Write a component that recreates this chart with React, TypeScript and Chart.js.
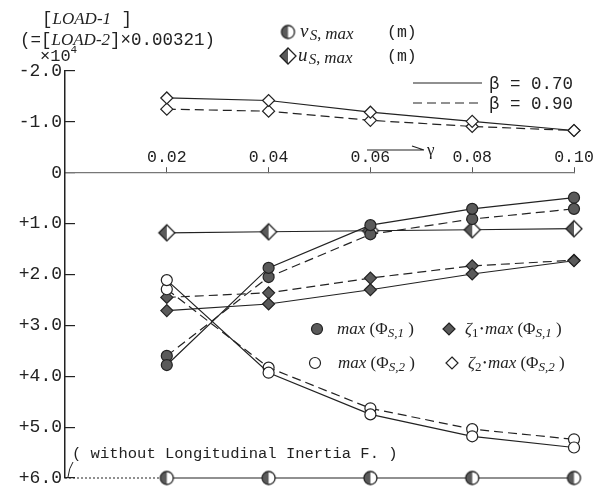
import React, { useEffect, useRef } from 'react';
import { Chart, registerables } from 'chart.js';

Chart.register(...registerables);

// ---- data (values in units of 10^4, axis reversed: negative on top) ----
const gamma = [0.02, 0.04, 0.06, 0.08, 0.1];
const yTickValues = [-2, -1, 0, 1, 2, 3, 4, 5, 6];
const zeta2TopB070 = [-1.47, -1.42, -1.19, -1.01, -0.83];
const zeta2TopB090 = [-1.25, -1.21, -1.03, -0.91, -0.83];
const usNoInertia = [1.18, 1.16, 1.14, 1.12, 1.1];
const vsNoInertia = [6, 6, 6, 6, 6];
const phi1B070 = [3.78, 1.87, 1.03, 0.71, 0.49];
const phi1B090 = [3.6, 2.05, 1.21, 0.91, 0.71];
const zeta1B070 = [2.71, 2.58, 2.3, 1.99, 1.73];
const zeta1B090 = [2.45, 2.36, 2.07, 1.83, 1.72];
const phi2B070 = [2.11, 3.93, 4.75, 5.18, 5.4];
const phi2B090 = [2.29, 3.83, 4.63, 5.04, 5.24];
const leaderGamma = [0, 0.02];
const leaderValue = [6, 6];

const INK = '#222';
const FILL = '#5a5a5a';
const MONO = '"Liberation Mono", "DejaVu Sans Mono", monospace';
const SERIF = '"Liberation Serif", "DejaVu Serif", serif';
const DASH = [9, 5];

function makeHalfCircle(r: number) {
  const s = Math.ceil(2 * r + 4);
  const c = document.createElement('canvas');
  c.width = s; c.height = s;
  const g = c.getContext('2d')!;
  const m = s / 2;
  g.beginPath(); g.arc(m, m, r, 0, Math.PI * 2); g.fillStyle = '#fff'; g.fill();
  g.beginPath(); g.moveTo(m, m - r); g.arc(m, m, r, -Math.PI / 2, Math.PI / 2, true); g.closePath();
  g.fillStyle = FILL; g.fill();
  g.beginPath(); g.arc(m, m, r, 0, Math.PI * 2); g.lineWidth = 1.3; g.strokeStyle = INK; g.stroke();
  return c;
}

function makeHalfDiamond(r: number) {
  const s = Math.ceil(2 * r + 4);
  const c = document.createElement('canvas');
  c.width = s; c.height = s;
  const g = c.getContext('2d')!;
  const m = s / 2;
  const path = () => { g.beginPath(); g.moveTo(m, m - r); g.lineTo(m + r, m); g.lineTo(m, m + r); g.lineTo(m - r, m); g.closePath(); };
  path(); g.fillStyle = '#fff'; g.fill();
  g.beginPath(); g.moveTo(m, m - r); g.lineTo(m - r, m); g.lineTo(m, m + r); g.closePath(); g.fillStyle = FILL; g.fill();
  path(); g.lineWidth = 1.3; g.strokeStyle = INK; g.stroke();
  return c;
}

type Part = [string, string, number?];
function drawRich(ctx: CanvasRenderingContext2D, x: number, y: number, parts: Part[]) {
  let cx = x;
  for (const [t, f, dy] of parts) {
    ctx.font = f;
    ctx.fillText(t, cx, y + (dy || 0));
    cx += ctx.measureText(t).width;
  }
}

function circleSym(ctx: CanvasRenderingContext2D, x: number, y: number, r: number, fill: string) {
  ctx.beginPath(); ctx.arc(x, y, r, 0, Math.PI * 2); ctx.fillStyle = fill; ctx.fill();
  ctx.lineWidth = 1.2; ctx.strokeStyle = INK; ctx.stroke();
}
function diamondSym(ctx: CanvasRenderingContext2D, x: number, y: number, r: number, fill: string) {
  ctx.beginPath(); ctx.moveTo(x, y - r); ctx.lineTo(x + r, y); ctx.lineTo(x, y + r); ctx.lineTo(x - r, y); ctx.closePath();
  ctx.fillStyle = fill; ctx.fill(); ctx.lineWidth = 1.2; ctx.strokeStyle = INK; ctx.stroke();
}

export default function App() {
  const ref = useRef<HTMLCanvasElement>(null);
  useEffect(() => {
    const halfCircle = makeHalfCircle(6.5);
    const halfDiamond = makeHalfDiamond(8);
    const pts = (ys: number[], xs: number[] = gamma) => xs.map((x, i) => ({ x, y: ys[i] }));
    const ds = (ys: number[], dashed: boolean, style: any, radius: number, bg: string, xs?: number[], extra: any = {}) => ({
      data: pts(ys, xs),
      borderColor: INK,
      borderWidth: 1.2,
      borderDash: dashed ? DASH : [],
      pointStyle: style,
      pointRadius: radius,
      pointBackgroundColor: bg,
      pointBorderColor: INK,
      pointBorderWidth: 1.2,
      fill: false,
      tension: 0,
      clip: false,
      ...extra,
    });

    const decorations = {
      id: 'decorations',
      afterDraw(chart: any) {
        const ctx: CanvasRenderingContext2D = chart.ctx;
        ctx.save();
        ctx.fillStyle = INK;
        ctx.textBaseline = 'alphabetic';
        ctx.textAlign = 'left';
        const m17 = `17.5px ${MONO}`;
        const i17 = `italic 17px ${SERIF}`;
        // header
        drawRich(ctx, 42, 24, [['[', m17], ['LOAD-1', i17], [' ]', m17]]);
        drawRich(ctx, 20, 45, [['(=[', m17], ['LOAD-2', i17], [']×0.00321)', m17]]);
        drawRich(ctx, 40, 61, [['×10', `17px ${MONO}`], ['4', `11px ${MONO}`, -8]]);
        // top legend
        ctx.drawImage(halfCircle, 288 - halfCircle.width / 2, 32 - halfCircle.height / 2);
        ctx.fillStyle = INK;
        drawRich(ctx, 300, 37, [['v', `italic 19px ${SERIF}`], [' ', `5px ${SERIF}`], ['S', `italic 15px ${SERIF}`, 3], [', ', `16px ${SERIF}`, 2], ['max', `italic 17px ${SERIF}`, 2]]);
        drawRich(ctx, 387, 37, [['(m)', `16.5px ${MONO}`]]);
        ctx.drawImage(halfDiamond, 288 - halfDiamond.width / 2, 56 - halfDiamond.height / 2);
        ctx.fillStyle = INK;
        drawRich(ctx, 298, 61, [['u', `italic 19px ${SERIF}`], [' ', `5px ${SERIF}`], ['S', `italic 15px ${SERIF}`, 3], [', ', `16px ${SERIF}`, 2], ['max', `italic 17px ${SERIF}`, 2]]);
        drawRich(ctx, 387, 61, [['(m)', `16.5px ${MONO}`]]);
        // beta legend
        ctx.strokeStyle = INK; ctx.lineWidth = 1.2;
        ctx.setLineDash([]);
        ctx.beginPath(); ctx.moveTo(413, 83); ctx.lineTo(482, 83); ctx.stroke();
        ctx.setLineDash(DASH);
        ctx.beginPath(); ctx.moveTo(413, 103); ctx.lineTo(482, 103); ctx.stroke();
        ctx.setLineDash([]);
        drawRich(ctx, 489, 89, [['β = 0.70', m17]]);
        drawRich(ctx, 489, 109, [['β = 0.90', m17]]);
        // gamma arrow
        ctx.beginPath(); ctx.moveTo(367, 150); ctx.lineTo(424, 150); ctx.moveTo(424, 150); ctx.lineTo(412, 146); ctx.stroke();
        drawRich(ctx, 427, 155, [['γ', `17px ${SERIF}`]]);
        // middle legend
        const i17b = `italic 17px ${SERIF}`;
        const s13 = `italic 13px ${SERIF}`;
        const u17 = `17px ${SERIF}`;
        const phiParts = (k: string): Part[] => [['max', i17b], [' (', u17], ['Φ', u17], ['S,' + k, s13, 3], [' )', u17]];
        const zetaParts = (k: string): Part[] => [['ζ', i17b], [k, `13px ${SERIF}`, 3], [' ', `6px ${SERIF}`], ['•', `10px ${SERIF}`, -2], [' ', `6px ${SERIF}`], ...phiParts(k)];
        circleSym(ctx, 317, 329, 5.5, FILL);
        ctx.fillStyle = INK;
        drawRich(ctx, 337, 334, phiParts('1'));
        diamondSym(ctx, 449, 329, 6, FILL);
        ctx.fillStyle = INK;
        drawRich(ctx, 465, 334, zetaParts('1'));
        circleSym(ctx, 315, 363, 5.5, '#fff');
        ctx.fillStyle = INK;
        drawRich(ctx, 338, 368, phiParts('2'));
        diamondSym(ctx, 452, 363, 6, '#fff');
        ctx.fillStyle = INK;
        drawRich(ctx, 468, 368, zetaParts('2'));
        // bottom note
        drawRich(ctx, 72, 458, [['( without Longitudinal Inertia F. )', `15.5px ${MONO}`]]);
        ctx.beginPath(); ctx.moveTo(73, 462); ctx.quadraticCurveTo(69, 468, 68, 477); ctx.lineWidth = 1; ctx.stroke();
        ctx.restore();
      },
    };

    const chart = new Chart(ref.current!, {
      type: 'line',
      data: {
        datasets: [
          ds(zeta2TopB070, false, 'rectRot', 6, '#fff'),
          ds(zeta2TopB090, true, 'rectRot', 6, '#fff'),
          ds(phi2B070, false, 'circle', 5.5, '#fff'),
          ds(phi2B090, true, 'circle', 5.5, '#fff'),
          ds(phi1B070, false, 'circle', 5.5, FILL),
          ds(phi1B090, true, 'circle', 5.5, FILL),
          ds(zeta1B070, false, 'rectRot', 6, FILL),
          ds(zeta1B090, true, 'rectRot', 6, FILL),
          ds(usNoInertia, false, halfDiamond, 8, '#fff'),
          ds(vsNoInertia, false, halfCircle, 7, '#fff'),
          ds(leaderValue, false, 'circle', 0, '#fff', leaderGamma, { borderDash: [2, 2], borderWidth: 1 }),
        ] as any,
      },
      options: {
        animation: false,
        responsive: false,
        devicePixelRatio: 1,
        events: [],
        layout: { padding: { top: 71, right: 29, bottom: 10, left: 0 } },
        plugins: { legend: { display: false }, tooltip: { enabled: false } },
        scales: {
          x: {
            type: 'linear',
            min: 0,
            max: 0.1,
            position: { y: 0 } as any,
            afterBuildTicks: (s: any) => { s.ticks = gamma.map((v) => ({ value: v })); },
            ticks: {
              callback: (v: any) => Number(v).toFixed(2),
              font: { family: MONO, size: 16.5 },
              color: INK,
              padding: -19,
              maxRotation: 0,
              autoSkip: false,
            },
            grid: { drawOnChartArea: false, tickLength: -6, color: '#555', lineWidth: 1 },
            border: { color: '#777', width: 1.2 },
          },
          y: {
            type: 'linear',
            reverse: true,
            min: -2,
            max: 6,
            position: 'left',
            afterBuildTicks: (s: any) => { s.ticks = yTickValues.map((v) => ({ value: v })); },
            afterFit: (s: any) => { s.width = 65; s.paddingTop = 8; s.paddingBottom = 8; },
            ticks: {
              callback: (v: any) => {
                const n = Number(v);
                if (n === 0) return '0';
                return (n > 0 ? '+' : '-') + Math.abs(n).toFixed(1);
              },
              font: { family: MONO, size: 18 },
              color: INK,
              padding: 13,
            },
            grid: { drawOnChartArea: false, tickLength: -10, color: INK, lineWidth: 1.2 },
            border: { color: INK, width: 1.5 },
          },
        },
      } as any,
      plugins: [decorations],
    });
    return () => chart.destroy();
  }, []);

  return (
    <div style={{ position: 'absolute', left: 0, top: 0, width: 603, height: 488, background: '#fff' }}>
      <canvas ref={ref} width={603} height={488} style={{ display: 'block' }} />
    </div>
  );
}
